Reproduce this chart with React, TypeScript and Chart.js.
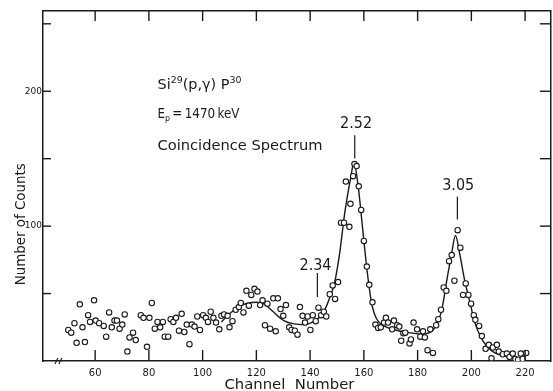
import React, { useEffect, useRef } from 'react';
import { Chart, registerables } from 'chart.js';

Chart.register(...registerables);

// ---- data ----
const channels = [
  50.0, 51.1, 52.3, 53.1, 54.3, 55.3, 56.2, 57.4, 58.1, 59.6, 60.2, 61.5, 63.2, 64.1, 65.2, 66.2, 67.2, 68.1, 69.1, 70.1,
  71.0, 72.0, 72.8, 74.1, 75.1, 77.0, 78.0, 79.3, 80.2, 81.1, 82.2, 83.2, 84.2, 85.2, 85.9, 87.2, 88.1, 89.1, 90.1, 91.2,
  92.2, 93.2, 94.1, 95.1, 96.0, 97.0, 98.0, 99.0, 100.2, 101.2, 102.0, 103.0, 104.0, 105.0, 106.2, 107.0, 108.0, 109.3, 110.0, 111.1,
  112.3, 113.5, 114.2, 115.2, 116.3, 117.2, 118.1, 119.3, 120.4, 121.4, 122.3, 123.2, 124.1, 125.1, 126.3, 127.2, 128.0, 129.0, 130.0, 131.0,
  132.2, 133.1, 134.3, 135.3, 136.2, 137.2, 138.1, 139.1, 140.1, 141.0, 142.1, 143.1, 144.1, 145.1, 146.0, 147.3, 148.4, 149.3, 150.4, 151.5,
  152.6, 153.3, 154.6, 155.0, 156.0, 156.5, 157.3, 158.1, 159.0, 160.0, 161.1, 162.0, 163.2, 164.3, 165.3, 166.3, 167.5, 168.2, 169.0, 170.5,
  171.2, 172.4, 173.2, 173.9, 174.7, 175.4, 177.0, 177.5, 178.5, 179.8, 181.0, 182.0, 182.7, 183.7, 184.7, 185.7, 186.9, 187.7, 188.7, 189.7,
  190.7, 191.7, 192.7, 193.7, 194.9, 195.9, 196.9, 197.9, 198.9, 199.9, 200.9, 201.5, 202.9, 203.9, 205.3, 206.5, 207.5, 208.0, 209.5, 210.2,
  211.7, 213.2, 214.2, 215.4, 216.4, 217.4, 218.4, 219.1, 220.4,
];
const counts = [
  23, 21, 28, 13.5, 42, 25, 14, 34, 29, 45, 30, 28, 26, 18, 36, 25, 30, 30, 24, 27,
  34.5, 7, 17.5, 21, 15.5, 34, 32, 10.5, 32, 43, 24, 29, 25, 29, 18, 18, 31, 29, 32, 22.5,
  35, 21.5, 27, 12.5, 27, 25.5, 33, 23, 34, 32, 29, 36.5, 32, 28.5, 23.5, 33.5, 34.5, 33.5, 25, 29.5,
  38, 40, 43, 36, 52, 41, 49, 53.5, 51.5, 41.5, 45, 26.5, 42.5, 24, 46.5, 22, 46.5, 38.5, 33.5, 41.5,
  25, 23, 22.5, 19.5, 40, 33.5, 28.5, 33, 23, 34, 29.5, 39.5, 34, 36.5, 33, 49.5, 56, 46, 58.5, 102.5,
  102.5, 133, 99.5, 116.5, 137, 146, 144.5, 129.5, 112, 89, 70, 56.5, 43.5, 27, 24.5, 25, 28.5, 32, 28.5, 23.5,
  30, 26.5, 25.5, 15, 20.5, 21, 13, 16, 28.5, 23.5, 18, 22, 17.5, 8, 23.5, 6, 26.5, 31, 38, 54.5,
  52, 74, 78.5, 59.5, 97, 84, 49, 57.5, 49, 42.5, 34, 30.5, 26, 18.5, 9, 12, 2, 10, 12, 7,
  5, 5.5, 3, 5.5, 1.5, 1, 5.5, 1.5, 6,
];
const fitChannels = [
  107, 110, 112, 114, 116.7, 120, 122.8, 126.5, 130.2, 134, 138, 141.4, 143.8, 145.7, 147.5, 149, 151, 152.9, 155.1, 156.3,
  157.8, 159.6, 161.2, 162.7, 163.9, 165.5, 168, 171.7, 176.6, 181.5, 183.7, 185.5, 187, 188.9, 190.8, 192.6, 194.1, 195.7, 197.6, 199.4,
  201.2, 203.7, 206.2, 208.6, 212.3, 217.2, 219.5,
];
const fitCounts = [
  29, 35, 38, 41, 42.8, 43.6, 42.3, 36.1, 30, 27.5, 27, 29.5, 33, 39, 48, 57, 80, 110, 136, 147,
  131, 97, 67, 45, 35, 29, 25.5, 23, 21, 20, 20.5, 22.5, 27, 37, 59, 79, 93, 79, 59, 44,
  29, 17, 10, 6.2, 3.7, 1.5, 1,
];
const xTickValues = [60, 80, 100, 120, 140, 160, 180, 200, 220];
const xTickLabels = ['60', '80', '100', '120', '140', '160', '180', '200', '220'];
const yTickValues = [50, 100, 150, 200, 250];
const yTickLabels = ['', '100', '', '200', ''];
const peakLabels = ['2.34', '2.52', '3.05'];
const peakLabelChannels = [142, 157.1, 195.1];
const peakLabelCounts = [67.8, 172.4, 126.6];
const peakLineChannels = [142.7, 156.6, 194.8];
const peakLineTops = [65.3, 167.4, 121.7];
const peakLineBottoms = [47.5, 150.2, 104.9];

const X_MIN = 40.6;
const X_MAX = 229.6;
const Y_MIN = 0;
const Y_MAX = 259.5;
const INK = '#1a1a1a';
const FONT = '"DejaVu Sans", "Noto Sans", sans-serif';

type Run = [string, number, number];

function drawRuns(ctx: CanvasRenderingContext2D, runs: Run[], x: number, y: number, targetWidth: number, align: 'left' | 'center' = 'left') {
  let total = 0;
  const widths: number[] = [];
  for (const [t, s] of runs) {
    ctx.font = `${s}px ${FONT}`;
    const w = ctx.measureText(t).width;
    widths.push(w);
    total += w;
  }
  const sx = targetWidth / total;
  ctx.save();
  ctx.translate(align === 'center' ? x - targetWidth / 2 : x, y);
  ctx.scale(sx, 1);
  ctx.textAlign = 'left';
  ctx.textBaseline = 'alphabetic';
  let cx = 0;
  runs.forEach(([t, s, dy], i) => {
    ctx.font = `${s}px ${FONT}`;
    ctx.fillText(t, cx, dy);
    cx += widths[i];
  });
  ctx.restore();
}

const decorPlugin = {
  id: 'decor',
  afterDraw(chart: any) {
    const ctx: CanvasRenderingContext2D = chart.ctx;
    const xs = chart.scales.x;
    const ys = chart.scales.y;
    const { left, right, top, bottom } = chart.chartArea;
    ctx.save();
    ctx.strokeStyle = INK;
    ctx.fillStyle = INK;
    ctx.lineWidth = 1.4;
    const line = (x1: number, y1: number, x2: number, y2: number) => {
      ctx.beginPath();
      ctx.moveTo(x1, y1);
      ctx.lineTo(x2, y2);
      ctx.stroke();
    };
    xs.ticks.forEach((t: any) => {
      const px = xs.getPixelForValue(t.value);
      line(px, bottom, px, bottom - 11);
      line(px, top, px, top + 10);
    });
    ys.ticks.forEach((t: any) => {
      const py = ys.getPixelForValue(t.value);
      line(left, py, left + 8, py);
      line(right, py, right - 11, py);
    });
    // axis break marks
    const bx = xs.getPixelForValue(46.5);
    ctx.lineWidth = 1.1;
    line(bx - 4, bottom + 3, bx - 1, bottom - 3);
    line(bx, bottom + 3, bx + 3, bottom - 3);

    // peak markers
    ctx.lineWidth = 1.2;
    peakLabels.forEach((lab, i) => {
      const px = xs.getPixelForValue(peakLineChannels[i]);
      line(px, ys.getPixelForValue(peakLineTops[i]), px, ys.getPixelForValue(peakLineBottoms[i]));
      drawRuns(ctx, [[lab, 15, 0]], xs.getPixelForValue(peakLabelChannels[i]), ys.getPixelForValue(peakLabelCounts[i]), 32, 'center');
    });

    // info block
    const ix = xs.getPixelForValue(83.2);
    drawRuns(ctx, [['Si', 14.5, 0], ['29', 9.5, -6], ['(p,γ) P', 14.5, 0], ['30', 9.5, -6]], ix, ys.getPixelForValue(201.8), 84);
    drawRuns(ctx, [['E', 14.5, 0], ['p', 9.5, 3], ['\u2009=\u20091470\u2009keV', 14.5, 0]], ix, ys.getPixelForValue(180.5), 82);
    drawRuns(ctx, [['Coincidence Spectrum', 14.5, 0]], ix, ys.getPixelForValue(156.8), 165);

    // axis titles
    drawRuns(ctx, [['Channel  Number', 14.5, 0]], xs.getPixelForValue(132.3), 389, 130, 'center');
    ctx.save();
    ctx.translate(left - 23, ys.getPixelForValue(101.4));
    ctx.rotate(-Math.PI / 2);
    drawRuns(ctx, [['Number of Counts', 14, 0]], 0, 5, 122, 'center');
    ctx.restore();
    ctx.restore();
  },
};

export default function App() {
  const ref = useRef<HTMLCanvasElement | null>(null);
  useEffect(() => {
    if (!ref.current) return;
    const points = channels.map((c, i) => ({ x: c, y: counts[i] }));
    const fit = fitChannels.map((c, i) => ({ x: c, y: fitCounts[i] }));
    const chart = new Chart(ref.current, {
      type: 'scatter',
      data: {
        datasets: [
          {
            data: points,
            pointRadius: 2.7,
            pointBorderWidth: 1.1,
            pointBorderColor: INK,
            pointBackgroundColor: '#ffffff',
            showLine: false,
            xAxisID: 'x',
            yAxisID: 'y',
          },
          {
            data: fit,
            showLine: true,
            pointRadius: 0,
            borderColor: INK,
            borderWidth: 1.4,
            cubicInterpolationMode: 'monotone',
            fill: false,
            xAxisID: 'x',
            yAxisID: 'y',
          },
        ],
      },
      options: {
        animation: false,
        responsive: false,
        events: [],
        layout: { padding: { top: 11, right: 2, left: 0, bottom: 0 } },
        plugins: { legend: { display: false }, tooltip: { enabled: false } },
        scales: {
          x: {
            type: 'linear',
            position: 'bottom',
            min: X_MIN,
            max: X_MAX,
            afterBuildTicks: (s: any) => { s.ticks = xTickValues.map((v) => ({ value: v })); },
            afterFit: (s: any) => { s.height = 30; },
            grid: { display: false, drawTicks: false },
            border: { display: true, color: INK, width: 1.5 },
            ticks: {
              autoSkip: false,
              maxRotation: 0,
              padding: 6,
              color: INK,
              font: { family: FONT, size: 10 },
              callback: (_v: any, i: number) => xTickLabels[i],
            },
          },
          x2: {
            type: 'linear',
            position: 'top',
            min: X_MIN,
            max: X_MAX,
            afterFit: (s: any) => { s.height = 0; },
            grid: { display: false, drawTicks: false },
            border: { display: true, color: INK, width: 1.5 },
            ticks: { display: false },
          },
          y: {
            type: 'linear',
            position: 'left',
            min: Y_MIN,
            max: Y_MAX,
            afterBuildTicks: (s: any) => { s.ticks = yTickValues.map((v) => ({ value: v })); },
            afterFit: (s: any) => { s.width = 43; },
            grid: { display: false, drawTicks: false },
            border: { display: true, color: INK, width: 1.5 },
            ticks: {
              autoSkip: false,
              padding: 1,
              color: INK,
              font: { family: FONT, size: 9 },
              callback: (_v: any, i: number) => yTickLabels[i],
            },
          },
          y2: {
            type: 'linear',
            position: 'right',
            min: Y_MIN,
            max: Y_MAX,
            afterFit: (s: any) => { s.width = 0; },
            grid: { display: false, drawTicks: false },
            border: { display: true, color: INK, width: 1.5 },
            ticks: { display: false },
          },
        },
      } as any,
      plugins: [decorPlugin],
    });
    return () => chart.destroy();
  }, []);
  return (
    <div style={{ position: 'fixed', left: 0, top: 0, width: 553, height: 391, overflow: 'hidden', background: '#fff' }}>
      <canvas ref={ref} width={556} height={391} style={{ display: 'block', width: 556, height: 391 }} />
    </div>
  );
}
